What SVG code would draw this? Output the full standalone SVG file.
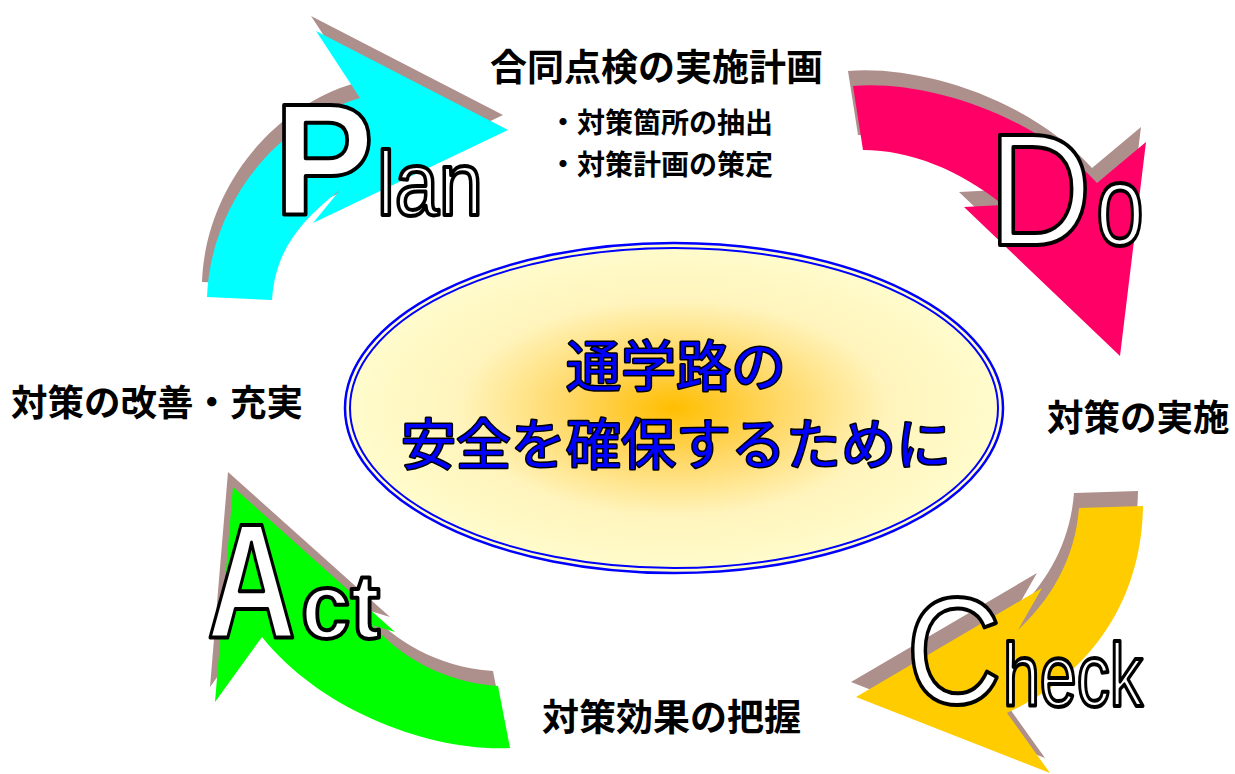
<svg xmlns="http://www.w3.org/2000/svg" xmlns:xlink="http://www.w3.org/1999/xlink" width="1235" height="774" viewBox="0 0 1235 774">
<style>
.shadow{fill:#AD8F8C}
.big{font-family:"Liberation Sans",Arial,sans-serif;fill:#FFFFFF;stroke:#000000;stroke-width:4;stroke-linejoin:round}
.heavy{font-weight:bold}
.jp{font-family:"Noto Sans CJK JP","Noto Sans CJK SC",sans-serif;font-weight:bold;fill:#000000}
.center{font-family:"Noto Sans CJK JP","Noto Sans CJK SC",sans-serif;font-size:55px;fill:#0000FF;stroke:#000000;stroke-width:3;paint-order:stroke;stroke-linejoin:round}
</style>
<defs>
<radialGradient id="core" cx="0.5" cy="0.5" r="0.5">
<stop offset="0" stop-color="#FFBE00"/>
<stop offset="0.3" stop-color="#FFD660"/>
<stop offset="0.65" stop-color="#FFF4BC"/>
<stop offset="1" stop-color="#FFFCCC"/>
</radialGradient>
<path id="plan" d="M508,130 L316,31 L360,98 C270,125 210,210 207,297 L272,300 C275,255 295,225 340,190 L313,223 Z"/>
<path id="do" d="M853,86 C920,80 1030,110 1097,183 L1146,142 L1120,356 L964,207 L1003,205 C960,170 910,150 863,150 Z"/>
<path id="check" d="M856,697 L1042,588 L1018,630 C1050,600 1075,560 1079,508 L1143,506 C1142,590 1100,670 1007,713 L1050,773 Z"/>
<path id="act" d="M233,487 L395,632 L372,625 C400,655 440,682 498,686 L510,748 C430,752 320,710 262,637 L215,702 Z"/>
</defs>
<g id="connectors">
<use xlink:href="#plan" class="shadow" transform="translate(-5,-15)"/>
<use xlink:href="#plan" fill="#00FFFF"/>
<use xlink:href="#do" class="shadow" transform="translate(-5,-15)"/>
<use xlink:href="#do" fill="#FF0066"/>
<use xlink:href="#check" class="shadow" transform="translate(-5,-15)"/>
<use xlink:href="#check" fill="#FFCC00"/>
<use xlink:href="#act" class="shadow" transform="translate(-5,-15)"/>
<use xlink:href="#act" fill="#00FF00"/>
</g>
<g id="goal">
<ellipse cx="674" cy="408" rx="329" ry="165" fill="url(#core)" stroke="#0000FF" stroke-width="2.5"/>
<ellipse cx="674" cy="408" rx="324" ry="160" fill="none" stroke="#0000FF" stroke-width="2"/>
<text class="center" x="566" y="386">通学路の</text>
<text class="center" x="401" y="464">安全を確保するために</text>
</g>
<g id="plan-node">
<text class="big heavy" x="274" y="215" font-size="160" textLength="100" lengthAdjust="spacingAndGlyphs">P</text>
<text class="big" x="377" y="215" font-size="90" textLength="106" lengthAdjust="spacingAndGlyphs">lan</text>
<text class="jp" x="490" y="81" font-size="37">合同点検の実施計画</text>
<text class="jp" x="549" y="133" font-size="28">・対策箇所の抽出</text>
<text class="jp" x="549" y="175" font-size="28">・対策計画の策定</text>
</g>
<g id="do-node">
<text class="big" x="988" y="245" font-size="160" textLength="104" lengthAdjust="spacingAndGlyphs">D</text>
<text class="big" x="1096" y="245" font-size="115" textLength="48" lengthAdjust="spacingAndGlyphs">o</text>
<text class="jp" x="1047" y="431" font-size="36.5">対策の実施</text>
</g>
<g id="check-node">
<text class="big" x="906" y="704" font-size="153" textLength="96" lengthAdjust="spacingAndGlyphs">C</text>
<text class="big" x="1003" y="706" font-size="89" textLength="140" lengthAdjust="spacingAndGlyphs">heck</text>
<text class="jp" x="542" y="731" font-size="37">対策効果の把握</text>
</g>
<g id="act-node">
<text class="big heavy" x="207" y="638" font-size="163" textLength="89" lengthAdjust="spacingAndGlyphs">A</text>
<text class="big heavy" x="301" y="638" font-size="92" textLength="79" lengthAdjust="spacingAndGlyphs">ct</text>
<text class="jp" x="11" y="416" font-size="36.5">対策の改善・充実</text>
</g>
</svg>
